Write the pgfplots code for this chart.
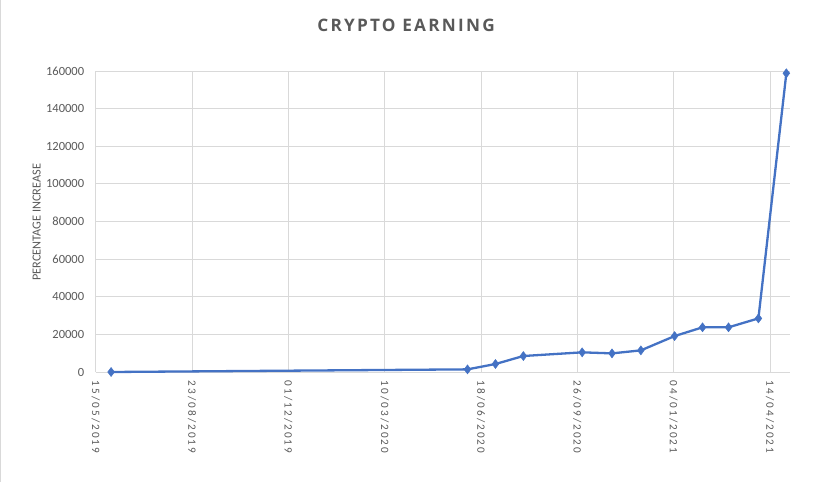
\documentclass[border=0pt]{standalone}
\usepackage{pgfplots}
\pgfplotsset{compat=1.18}
\usepackage{fontspec}
\setmainfont{Carlito}
\newfontfamily\titlefont[LetterSpace=13]{Open Sans}
\newfontfamily\datefont[LetterSpace=18]{Carlito}

\definecolor{excelblue}{HTML}{4472C4}
\definecolor{txtgray}{HTML}{595959}
\definecolor{gridgray}{HTML}{D9D9D9}

% days since 15/05/2019, percentage increase
\pgfplotstableread{
day  pct
16   0
386  1400
415  4250
444  8500
505  10450
536  9900
566  11500
601  19100
630  23750
657  23750
688  28500
717  158800
}\crypto

\begin{document}
\begin{tikzpicture}
\useasboundingbox (0,0) rectangle (814bp,482bp);
\draw[gridgray] (0.5bp,0) -- (0.5bp,482bp);
\begin{axis}[
    at={(95.7bp,110bp)}, anchor=south west,
    scale only axis,
    width=694.3bp, height=301bp,
    xmin=0, xmax=720.8,
    ymin=0, ymax=160000,
    xtick={0,100,...,700},
    xticklabels={15/05/2019,23/08/2019,01/12/2019,10/03/2020,18/06/2020,26/09/2020,04/01/2021,14/04/2021},
    ytick={0,20000,...,160000},
    yticklabels={0,20000,40000,60000,80000,100000,120000,140000,160000},
    scaled y ticks=false,
    major tick length=0pt,
    grid=major,
    major grid style={gridgray, line width=0.75bp},
    axis line style={draw=none},
    tick label style={font=\fontsize{12.5bp}{14bp}\selectfont, text=txtgray},
    xticklabel style={rotate=-90, anchor=west, inner sep=0pt, font=\fontsize{11.2bp}{13bp}\datefont},
    xticklabel shift=8.7bp,
    yticklabel style={anchor=east, inner sep=0pt},
    yticklabel shift=11.4bp,
    title={CRYPTO EARNING},
    title style={at={(axis description cs:0.447,1)}, anchor=center, yshift=40bp,
        font=\fontsize{17.2bp}{20bp}\titlefont\bfseries, text=txtgray},
    ylabel={PERCENTAGE INCREASE},
    ylabel style={at={(axis description cs:-0.085,0.497)}, anchor=center,
        rotate=0, font=\fontsize{12.3bp}{14bp}\selectfont, text=txtgray},
    clip=false,
]
\addplot[excelblue, line width=2.3bp, mark=diamond*, mark size=4.5bp,
    mark options={fill=excelblue, draw=excelblue, line width=0.5bp}]
    table[x=day, y=pct] {\crypto};
\end{axis}
\end{tikzpicture}
\end{document}
